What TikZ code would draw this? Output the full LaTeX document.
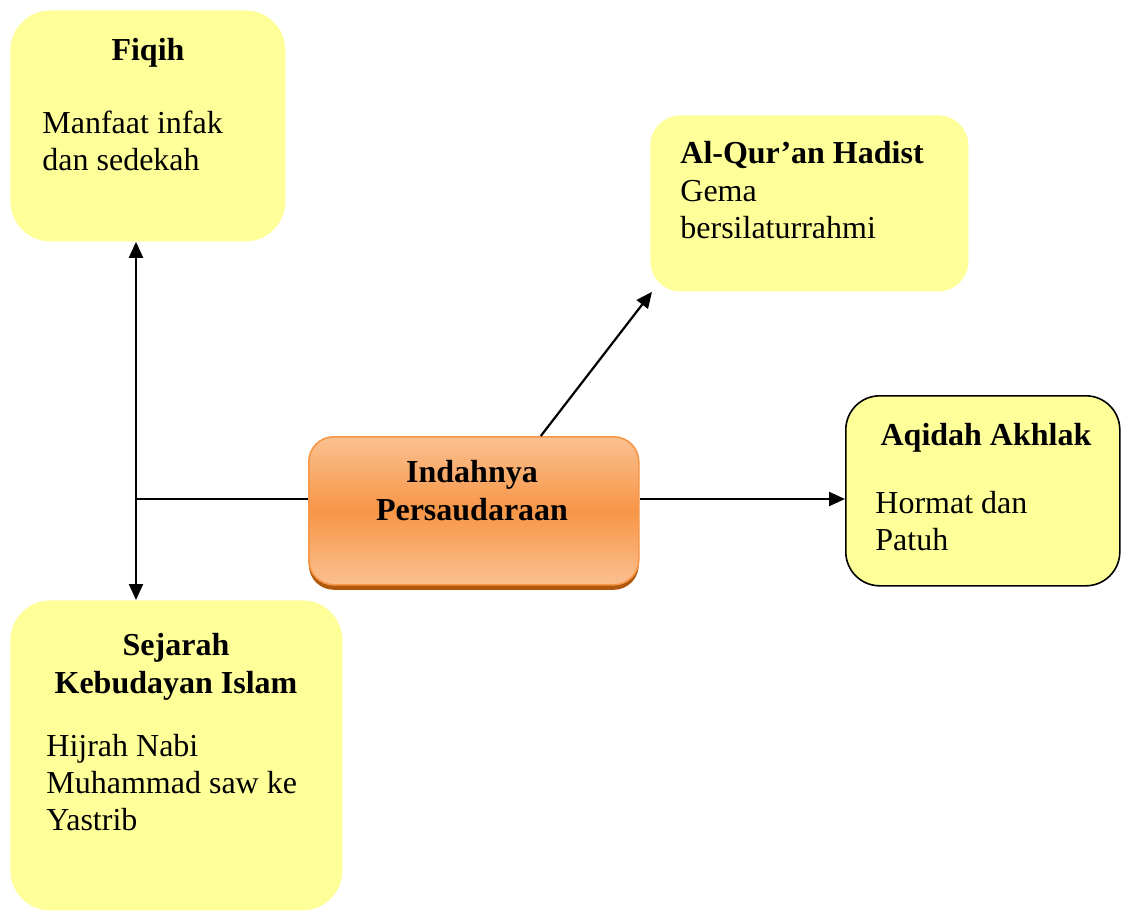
\documentclass[tikz,border=0pt]{standalone}
\usepackage{fontspec}
\setmainfont{Liberation Serif}
\usetikzlibrary{arrows.meta, positioning, shadows}
\definecolor{paleyellow}{HTML}{FFFF99}
\definecolor{themeorange}{HTML}{F79646}
\definecolor{lightorange}{HTML}{FAC090}
\definecolor{darkorange}{HTML}{B0580C}
\tikzstyle{subject} = [rectangle, rounded corners=20pt, fill=paleyellow, inner sep=0pt, anchor=north west]
\tikzstyle{theme} = [rectangle, rounded corners=12.5pt, inner sep=0pt, anchor=north west, draw=themeorange, line width=0.8pt, top color=lightorange, bottom color=lightorange, middle color=themeorange, drop shadow={shadow xshift=0pt, shadow yshift=-2.5pt, fill=darkorange, opacity=1}]
\tikzstyle{heading} = [font=\bfseries\fontsize{16}{18.8}\selectfont, align=center, inner sep=0pt, anchor=base]
\tikzstyle{body} = [font=\fontsize{16}{18.3}\selectfont, align=left, inner sep=0pt, anchor=base west]
\tikzstyle{arrow} = [line width=1.1pt, -{Triangle[length=8pt,width=7pt]}]
\tikzstyle{link} = [line width=0.6pt]

\begin{document}
\begin{tikzpicture}[x=0.5pt, y=-0.5pt]

    \useasboundingbox (0,0) rectangle (1121,912);

    % boxes
    \node (fiqih) [subject, minimum width=137.5pt, minimum height=115.5pt] at (10,10) {};
    \node (quran) [subject, rounded corners=15pt, minimum width=159pt, minimum height=88pt] at (650,115) {};
    \node (aqidah) [subject, rounded corners=17pt, draw=black, line width=0.8pt, minimum width=137pt, minimum height=95pt] at (845,395) {};
    \node (sejarah) [subject, minimum width=166pt, minimum height=155pt] at (10,600) {};
    \node (persaudaraan) [theme, minimum width=165pt, minimum height=74pt] at (308,436) {};

    % texts (anchored at the baseline of the last line)
    \node (fiqihhead) [heading] at (148,60) {Fiqih};
    \node (fiqihtext) [body] at (42,170) {Manfaat infak\\dan sedekah};

    \node (quranhead) [heading, anchor=base west] at (680,163) {Al-Qur’an Hadist};
    \node (qurantext) [body] at (680,238) {Gema\\bersilaturrahmi};

    \node (aqidahhead) [heading] at (986,445) {Aqidah Akhlak};
    \node (aqidahtext) [body] at (875,550) {Hormat dan\\Patuh};

    \node (sejarahhead) [heading] at (176,693) {Sejarah\\Kebudayan Islam};
    \node (sejarahtext) [body] at (46,830) {Hijrah Nabi\\Muhammad saw ke\\Yastrib};

    \node (centerhead) [heading] at (472,520) {Indahnya\\Persaudaraan};

    % connectors
    \coordinate (junction) at (136,499);
    \draw [link] (persaudaraan.west |- junction) -- (junction);
    \draw [arrow] (junction) -- (junction |- fiqih.south);
    \draw [arrow] (junction) -- (junction |- sejarah.north);
    \draw [arrow] (persaudaraan.east |- junction) -- (aqidah.west |- junction);
    \draw [arrow] ([xshift=33.5pt]persaudaraan.north) -- ([xshift=1pt]quran.south west);

\end{tikzpicture}
\end{document}
